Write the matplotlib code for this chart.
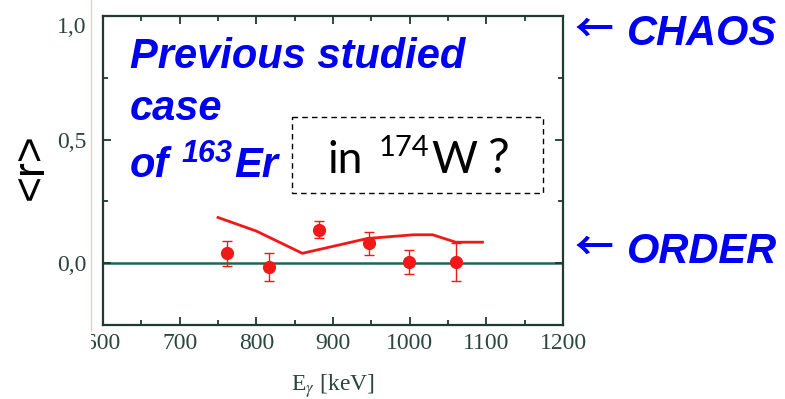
import matplotlib
matplotlib.use("Agg")
import matplotlib.pyplot as plt
import matplotlib.transforms as mtransforms
from matplotlib.patches import Rectangle
from matplotlib.lines import Line2D
from matplotlib.ticker import MultipleLocator, FixedLocator

plt.rcParams["mathtext.fontset"] = "stix"

# ---- data ----
exp_energy = [762, 816, 882, 947, 999, 1061]
exp_r = [0.04, -0.015, 0.135, 0.08, 0.005, 0.005]
exp_err = [0.05, 0.055, 0.035, 0.045, 0.05, 0.075]

calc_energy = [750, 800, 860, 945, 1005, 1030, 1060, 1095]
calc_r = [0.185, 0.13, 0.04, 0.10, 0.115, 0.115, 0.085, 0.085]

x_ticks = [600, 700, 800, 900, 1000, 1100, 1200]
x_tick_labels = ["600", "700", "800", "900", "1000", "1100", "1200"]
y_ticks = [0.0, 0.5, 1.0]
y_tick_labels = ["0,0", "0,5", "1,0"]

W, H = 785, 399
fig = plt.figure(figsize=(W / 100, H / 100), dpi=100)
PX = mtransforms.Affine2D().scale(1 / W, -1 / H).translate(0, 1) + fig.transFigure

left, right, top, bottom = 103, 563, 16, 325
ax = fig.add_axes([left / W, 1 - bottom / H, (right - left) / W, (bottom - top) / H])

frame_col = "#1e3a32"
lbl_col = "#2a463e"
red = "#f01818"
blue = "#0000f0"

ax.set_xlim(600, 1200)
ax.set_ylim(-0.25, 1.0)
for s in ax.spines.values():
    s.set_color(frame_col)
    s.set_linewidth(1.6)

ax.axhline(0, color="#1f6655", lw=1.8, zorder=1)
ax.plot(calc_energy, calc_r, color=red, lw=2.0, zorder=3)
ax.errorbar(exp_energy, exp_r, yerr=exp_err, fmt="o", color=red, ms=8.5,
            elinewidth=1.0, capsize=3.5, capthick=1.0, zorder=4)

ax.xaxis.set_major_locator(FixedLocator(x_ticks))
ax.set_xticklabels(x_tick_labels)
ax.xaxis.set_minor_locator(MultipleLocator(50))
ax.yaxis.set_major_locator(FixedLocator(y_ticks))
# the top label sits a little lower in the reference; drawn separately below
ax.set_yticklabels(y_tick_labels[:-1] + [""])
ax.yaxis.set_minor_locator(MultipleLocator(0.25))
ax.tick_params(which="both", direction="in", top=True, right=True, color=frame_col,
               width=1.3, labelcolor=lbl_col, labelsize=17)
ax.tick_params(which="major", length=6)
ax.tick_params(which="minor", length=3.5)
ax.tick_params(axis="x", pad=6)
ax.tick_params(axis="y", pad=12)
for t in ax.get_xticklabels() + ax.get_yticklabels():
    t.set_fontfamily("Liberation Serif")
top_lbl_tr = ax.get_yaxis_transform() + mtransforms.ScaledTranslation(
    -12 / 72, -8 / 72, fig.dpi_scale_trans)
ax.text(0, y_ticks[-1], y_tick_labels[-1], transform=top_lbl_tr, ha="right",
        va="center", fontsize=17, color=lbl_col, fontfamily="Liberation Serif",
        clip_on=False)

ax.set_xlabel(r"E$_\gamma$ [keV]", fontfamily="Liberation Serif", fontsize=17,
              color=lbl_col, labelpad=13)

# pasted-image boundary: clip the leftmost x label and draw faint pink edge
clip = Rectangle((91, 0), 700, 399, transform=PX, visible=False)
fig.add_artist(clip)
for t in ax.get_xticklabels():
    t.set_clip_path(clip)
    t.set_clip_on(True)
fig.add_artist(Line2D([91, 91], [0, 330], transform=PX, color="#f6c8c8", lw=1, zorder=6))

# y label
fig.text(31, 167, "<r>", transform=PX, rotation=90, ha="center", va="center",
         fontsize=32, fontfamily="Liberation Sans", color="black", zorder=8)

bfont = dict(fontfamily=["Liberation Sans", "DejaVu Sans"], fontweight="bold",
             fontstyle="italic", color=blue, zorder=8)
fig.text(130, 68, "Previous studied", transform=PX, fontsize=30, va="baseline", **bfont)
fig.text(130, 120, "case", transform=PX, fontsize=30, va="baseline", **bfont)
fig.text(130, 177, "of", transform=PX, fontsize=30, va="baseline", **bfont)
fig.text(181, 162, "163", transform=PX, fontsize=22, va="baseline", **bfont)
fig.text(234, 177, "Er", transform=PX, fontsize=30, va="baseline", **bfont)

afont = dict(fontfamily=["Noto Sans CJK SC", "DejaVu Sans"], fontweight="bold",
             color=blue, zorder=8)
fig.text(575, 30, "\u2190", transform=PX, fontsize=28, va="center", **afont)
fig.text(627, 45, "CHAOS", transform=PX, fontsize=30, va="baseline", **bfont)
fig.text(575, 248, "\u2190", transform=PX, fontsize=28, va="center", **afont)
fig.text(627, 263, "ORDER", transform=PX, fontsize=30, va="baseline", **bfont)

# dashed box with "in 174W ?"
fig.add_artist(Rectangle((292, 117), 251, 76, transform=PX, facecolor="white",
                         edgecolor="black", lw=1.0, ls=(0, (4, 3)), zorder=7))
kfont = dict(fontfamily="Lato", color="black", zorder=8, va="baseline")
fig.text(327, 173, "in", transform=PX, fontsize=32, **kfont)
fig.text(379, 156, "174", transform=PX, fontsize=21, **kfont)
fig.text(431, 173, "W", transform=PX, fontsize=32, **kfont)
fig.text(488, 173, "?", transform=PX, fontsize=35, **kfont)

fig.savefig("out.png", dpi=100)
